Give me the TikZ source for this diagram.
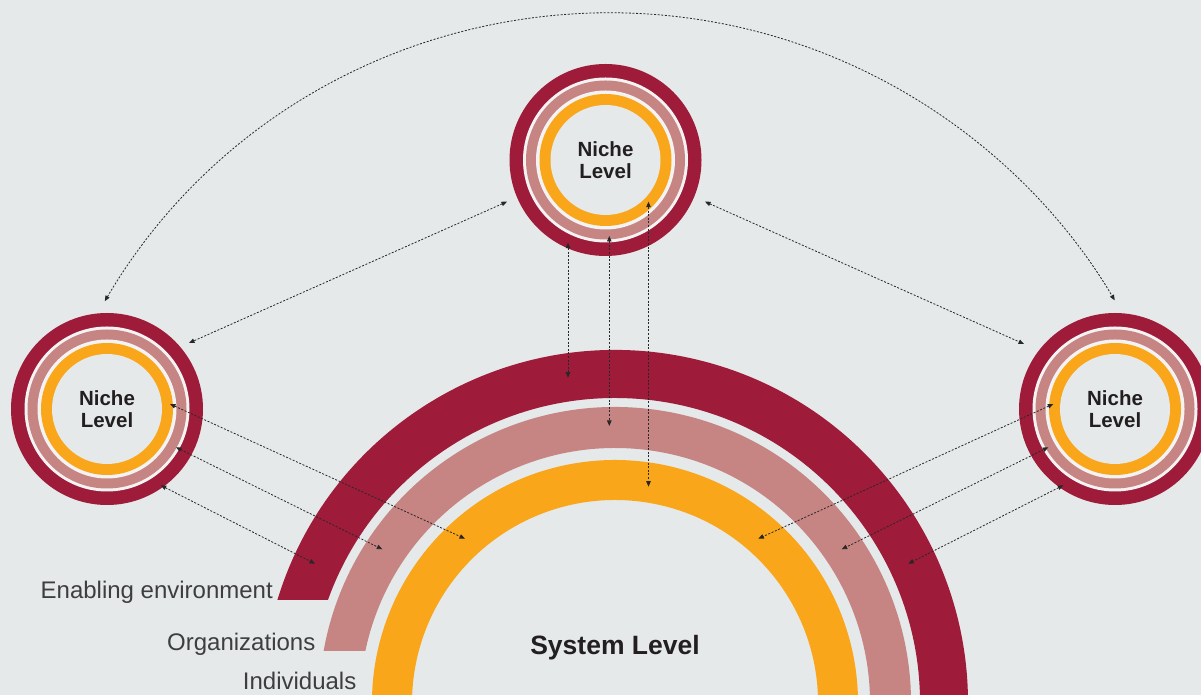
\documentclass[tikz,border=0pt]{standalone}
\usepackage{fontspec}
\setmainfont{Liberation Sans}
\usetikzlibrary{arrows.meta, calc}

\definecolor{envred}{RGB}{158,27,58}
\definecolor{orgpink}{RGB}{198,132,131}
\definecolor{indorange}{RGB}{249,166,27}
\definecolor{bggray}{RGB}{229,233,234}
\definecolor{gapwhite}{RGB}{243,243,243}
\definecolor{inkblack}{RGB}{35,31,32}
\definecolor{lblgray}{RGB}{62,62,62}
\definecolor{linkgray}{RGB}{40,40,40}

\begin{document}
\begin{tikzpicture}[
    x=1pt, y=1pt,
    >={Triangle[length=5.5pt, width=4.5pt]},
    niche/.style={circle, minimum size=192pt, inner sep=0pt, fill=envred, align=center, text=inkblack,
        font=\bfseries\fontsize{20.5}{22.6}\selectfont,
        path picture={
            \fill[gapwhite] (path picture bounding box.center) circle (82.5pt);
            \fill[orgpink] (path picture bounding box.center) circle (79.5pt);
            \fill[gapwhite] (path picture bounding box.center) circle (69.5pt);
            \fill[indorange] (path picture bounding box.center) circle (66pt);
            \fill[bggray] (path picture bounding box.center) circle (55pt);
        }},
    lbl/.style={anchor=base east, inner sep=0pt, text=lblgray, font=\fontsize{24}{28}\selectfont},
    link/.style={<->, line width=0.8pt, draw=linkgray, dash pattern=on 2pt off 1.6pt}
]

% canvas
\fill[bggray] (0,0) rectangle (1201,695);
\useasboundingbox (0,0) rectangle (1201,695);
\clip (0,0) rectangle (1201,695);

% System level arcs
\coordinate (C) at (615,-8);
\fill[envred] ($(C)+(163.03:353)$) arc[start angle=163.03, end angle=-5, radius=353] -- ($(C)+(-5:305)$) arc[start angle=-5, end angle=160.26, radius=305] -- cycle;
\fill[orgpink] ($(C)+(169.88:296)$) arc[start angle=169.88, end angle=-5, radius=296] -- ($(C)+(-5:255)$) arc[start angle=-5, end angle=168.23, radius=255] -- cycle;
\fill[indorange] ($(C)+(190:243)$) arc[start angle=190, end angle=-10, radius=243] -- ($(C)+(-10:203)$) arc[start angle=-10, end angle=190, radius=203] -- cycle;
\node[anchor=base, text=inkblack, font=\bfseries\fontsize{26.5}{30}\selectfont] (sys) at ($(C)+(0,48.7)$) {System Level};

% Labels of the arcs
\node[lbl] (lblEnv) at (273,96) {Enabling environment};
\node[lbl] (lblOrg) at (315.5,44) {Organizations};
\node[lbl] (lblInd) at (356.5,5) {Individuals};

% Niche levels
\node[niche] (nicheT) at (605.5,535) {Niche\\Level};
\node[niche] (nicheL) at (107,286) {Niche\\Level};
\node[niche] (nicheR) at (1115,286) {Niche\\Level};

% Link end points
\coordinate (tA) at ($(nicheT.center)+(-37.5,-82.7)$);
\coordinate (sA) at ($(tA)+(0,-135)$);
\coordinate (tB) at ($(nicheT.center)+(3.8,-76)$);
\coordinate (sB) at ($(tB)+(0,-190)$);
\coordinate (tC) at ($(nicheT.center)+(43,-41.7)$);
\coordinate (sC) at ($(tC)+(0,-285)$);

\coordinate (lA) at ($(nicheL.center)+(63,5)$);
\coordinate (lB) at ($(nicheL.center)+(69,-38.3)$);
\coordinate (lC) at ($(nicheL.center)+(53.7,-76.3)$);
\coordinate (eLA) at ($(C)+(-150,164.3)$);
\coordinate (eLB) at ($(C)+(-232.7,153.7)$);
\coordinate (eLC) at ($(C)+(-300,139.3)$);

\coordinate (rA) at ($(nicheR.center)+(-61.7,5)$);
\coordinate (rB) at ($(nicheR.center)+(-66.7,-38.3)$);
\coordinate (rC) at ($(nicheR.center)+(-51.7,-76.3)$);
\coordinate (eRA) at ($(C)+(143.3,164.3)$);
\coordinate (eRB) at ($(C)+(226.7,153.7)$);
\coordinate (eRC) at ($(C)+(293.3,139.3)$);

\coordinate (tL) at ($(nicheT.center)+(-98.5,-41.7)$);
\coordinate (lT) at ($(nicheL.center)+(82,66)$);
\coordinate (tR) at ($(nicheT.center)+(99.5,-41.7)$);
\coordinate (rT) at ($(nicheR.center)+(-91,65)$);

\coordinate (arcC) at (610,95);
\coordinate (arcL) at ($(arcC)+(149.4:587)$);

% Links
\draw[link] (tA) -- (sA);
\draw[link] (tB) -- (sB);
\draw[link] (tC) -- (sC);
\draw[link] (lA) -- (eLA);
\draw[link] (lB) -- (eLB);
\draw[link] (lC) -- (eLC);
\draw[link] (rA) -- (eRA);
\draw[link] (rB) -- (eRB);
\draw[link] (rC) -- (eRC);
\draw[link] (tL) -- (lT);
\draw[link] (tR) -- (rT);
\draw[link] (arcL) arc[start angle=149.4, end angle=30.7, radius=587];

\end{tikzpicture}
\end{document}
